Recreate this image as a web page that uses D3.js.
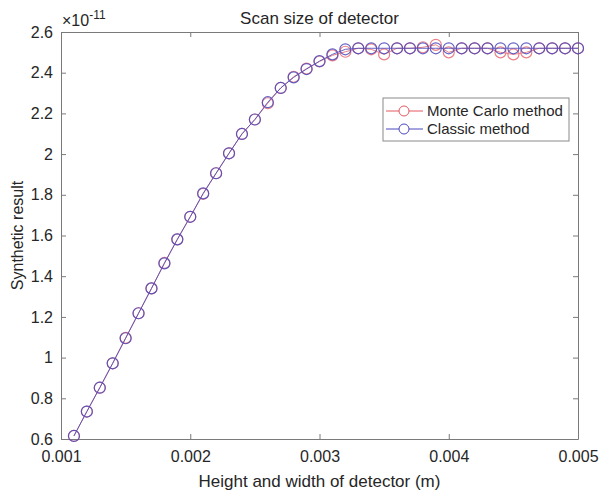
<!DOCTYPE html>
<html>
<head>
<meta charset="utf-8">
<script src="https://cdn.jsdelivr.net/npm/d3@7"></script>
<style>
    body { margin: 0; background: #fff; }
    svg text { font-family: "Liberation Sans", Arial, sans-serif; fill: #262626; }
</style>
</head>
<body>
<div id="chart"></div>
<script>
(function () {

    // Data (y values in units of 1e-11)
    var sizes = [0.0011, 0.0012, 0.0013, 0.0014, 0.0015, 0.0016, 0.0017, 0.0018, 0.0019, 0.0020,
                 0.0021, 0.0022, 0.0023, 0.0024, 0.0025, 0.0026, 0.0027, 0.0028, 0.0029, 0.0030,
                 0.0031, 0.0032, 0.0033, 0.0034, 0.0035, 0.0036, 0.0037, 0.0038, 0.0039, 0.0040,
                 0.0041, 0.0042, 0.0043, 0.0044, 0.0045, 0.0046, 0.0047, 0.0048, 0.0049, 0.0050];

    var classic = [0.615, 0.735, 0.852, 0.972, 1.095, 1.218, 1.340, 1.463, 1.581, 1.692,
                   1.807, 1.906, 2.004, 2.099, 2.170, 2.255, 2.325, 2.377, 2.418, 2.457,
                   2.490, 2.515, 2.520, 2.520, 2.520, 2.520, 2.520, 2.520, 2.520, 2.520,
                   2.520, 2.520, 2.520, 2.520, 2.520, 2.520, 2.520, 2.520, 2.520, 2.520];

    var monteCarlo = [0.615, 0.735, 0.852, 0.972, 1.097, 1.218, 1.340, 1.465, 1.581, 1.692,
                      1.805, 1.906, 2.004, 2.099, 2.170, 2.250, 2.325, 2.380, 2.420, 2.455,
                      2.485, 2.503, 2.520, 2.515, 2.490, 2.520, 2.520, 2.525, 2.537, 2.500,
                      2.520, 2.520, 2.520, 2.500, 2.490, 2.500, 2.520, 2.520, 2.520, 2.520];

    var xTicks = [0.001, 0.002, 0.003, 0.004, 0.005];
    var yTicks = [0.6, 0.8, 1, 1.2, 1.4, 1.6, 1.8, 2, 2.2, 2.4, 2.6];

    var seriesNames = ["Monte Carlo method", "Classic method"];

    // Colors
    var redColor = "#e3585f";
    var blueColor = "#4b48bc";
    var axisColor = "#7a7a7a";

    var margin = {top: 32, right: 21, bottom: 55, left: 61},
        width = 599 - margin.left - margin.right,
        height = 494 - margin.top - margin.bottom;

    var svg = d3.select("#chart")
        .append("svg")
        .attr("width", 599)
        .attr("height", 494)
        .append("g")
        .attr("transform", "translate(" + margin.left + "," + margin.top + ")");

    var x = d3.scaleLinear().domain([0.001, 0.005]).range([0, width]);
    var y = d3.scaleLinear().domain([0.6, 2.6]).range([height, 0]);

    var xFmt = function (d) { return d3.format(".3f")(d); };
    var yFmt = function (d) { return d3.format("")(+d.toFixed(1)); };

    // Axes (MATLAB style box with inward ticks)
    var bottomAxis = svg.append("g")
        .attr("transform", "translate(0," + height + ")")
        .call(d3.axisBottom(x).tickValues(xTicks).tickFormat(xFmt).tickSize(-5).tickSizeOuter(0).tickPadding(12));
    var leftAxis = svg.append("g")
        .call(d3.axisLeft(y).tickValues(yTicks).tickFormat(yFmt).tickSize(-5).tickSizeOuter(0).tickPadding(8));
    var topAxis = svg.append("g")
        .call(d3.axisTop(x).tickValues(xTicks).tickFormat("").tickSize(-5).tickSizeOuter(0));
    var rightAxis = svg.append("g")
        .attr("transform", "translate(" + width + ",0)")
        .call(d3.axisRight(y).tickValues(yTicks).tickFormat("").tickSize(-5).tickSizeOuter(0));

    [bottomAxis, leftAxis, topAxis, rightAxis].forEach(function (a) {
        a.selectAll("path, line").attr("stroke", axisColor);
        a.selectAll("text").style("font-size", "16px").attr("fill", "#262626");
    });

    // Exponent label
    var expLabel = svg.append("text")
        .attr("x", 1)
        .attr("y", -6)
        .style("font-size", "16px");
    expLabel.append("tspan").text("\u00d710");
    expLabel.append("tspan").attr("dy", -7).style("font-size", "12px").text("-11");

    // Title
    svg.append("text")
        .attr("x", width / 2)
        .attr("y", -8)
        .attr("text-anchor", "middle")
        .style("font-size", "17px")
        .text("Scan size of detector");

    // Axis labels
    svg.append("text")
        .attr("x", width / 2)
        .attr("y", height + 48)
        .attr("text-anchor", "middle")
        .style("font-size", "17px")
        .text("Height and width of detector (m)");

    svg.append("text")
        .attr("transform", "rotate(-90)")
        .attr("x", -height / 2)
        .attr("y", -38)
        .attr("text-anchor", "middle")
        .style("font-size", "16px")
        .text("Synthetic result");

    var line = d3.line()
        .x(function (d) { return x(d[0]); })
        .y(function (d) { return y(d[1]); });

    function drawSeries(values, color, opacity) {
        var pts = sizes.map(function (s, i) { return [s, values[i]]; });
        var g = svg.append("g").attr("opacity", opacity);
        g.append("path")
            .datum(pts)
            .attr("fill", "none")
            .attr("stroke", color)
            .attr("stroke-width", 1)
            .attr("d", line);
        g.selectAll("circle")
            .data(pts)
            .enter().append("circle")
            .attr("cx", function (d) { return x(d[0]); })
            .attr("cy", function (d) { return y(d[1]); })
            .attr("r", 5.5)
            .attr("fill", "none")
            .attr("stroke", color)
            .attr("stroke-width", 1.2);
    }

    drawSeries(monteCarlo, redColor, 0.75);
    drawSeries(classic, blueColor, 0.85);

    // Legend
    var legend = svg.append("g")
        .attr("transform", "translate(" + (383 - margin.left) + "," + (98 - margin.top) + ")");
    legend.append("rect")
        .attr("width", 186)
        .attr("height", 43)
        .attr("fill", "#fff")
        .attr("stroke", "#8a8a8a");

    var colors = [redColor, blueColor];
    var rows = legend.selectAll(".legend")
        .data(seriesNames)
        .enter().append("g")
        .attr("transform", function (d, i) { return "translate(0," + (13 + i * 18) + ")"; });
    rows.append("line")
        .attr("x1", 3).attr("x2", 40).attr("y1", 0).attr("y2", 0)
        .attr("stroke", function (d, i) { return colors[i]; });
    rows.append("circle")
        .attr("cx", 21).attr("cy", 0).attr("r", 5)
        .attr("fill", "#fff")
        .attr("stroke", function (d, i) { return colors[i]; });
    rows.append("text")
        .attr("x", 44)
        .attr("y", 5)
        .style("font-size", "15px")
        .text(function (d) { return d; });

})();
</script>
</body>
</html>
